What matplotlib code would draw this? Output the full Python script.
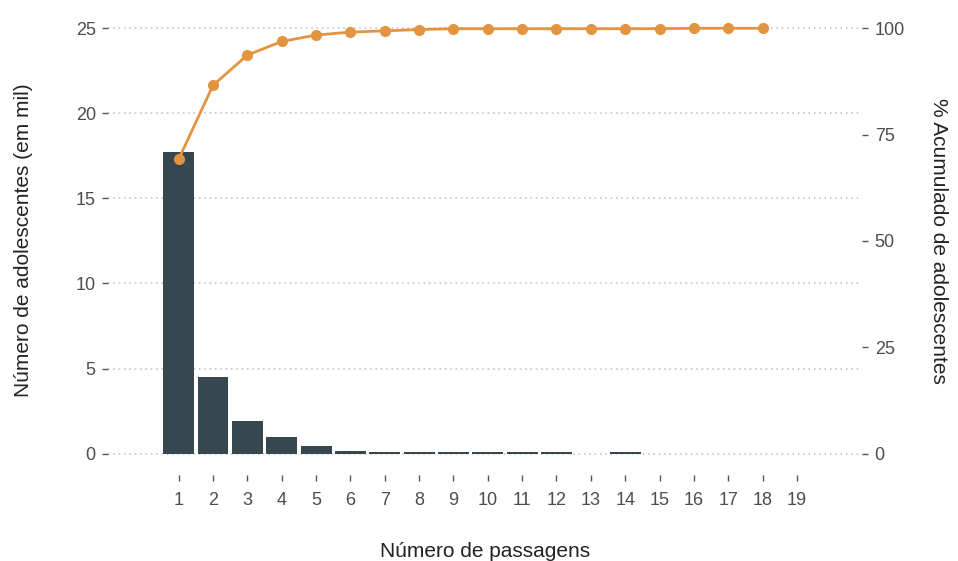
import numpy as np
import matplotlib
matplotlib.use("Agg")
import matplotlib.pyplot as plt

plt.rcParams['font.family'] = ['Liberation Sans', 'DejaVu Sans']

# dados
passagens = list(range(1, 20))
adolescentes = [17.7, 4.5, 1.9, 0.95, 0.45, 0.15, 0.12, 0.07, 0.07, 0.07,
                0.07, 0.07, 0.0, 0.07, 0.0, 0.0, 0.0, 0.0, 0.0]
passagens_acum = list(range(1, 19))
pct_acumulado = [69.2, 86.6, 93.7, 96.9, 98.4, 99.1, 99.4, 99.7, 99.9, 99.9,
                 99.9, 99.9, 99.9, 99.9, 99.9, 100, 100, 100]

cor_barra = '#36474f'
cor_linha = '#e39440'
cinza = '#4d4d4d'

fig = plt.figure(figsize=(9.58, 5.61), dpi=100)
ax = fig.add_axes([0.113, 0.153, 0.787, 0.836])
ax2 = ax.twinx()

ax.bar(passagens, adolescentes, width=0.9, color=cor_barra, zorder=2)
ax.set_ylim(-1.27, 26.3)
ax.set_xlim(-1.05, 20.9)
ax.set_yticks([0, 5, 10, 15, 20, 25])
ax.set_xticks(passagens)
ax.grid(axis='y', linestyle=(0, (1, 2.5)), color='#bdbdbd', linewidth=1.1, zorder=0)

ax2.plot(passagens_acum, pct_acumulado, color=cor_linha, linewidth=2,
         marker='o', markersize=7, zorder=3)
ax2.set_ylim(-5.08, 105.2)
ax2.set_yticks([0, 25, 50, 75, 100])

for a in (ax, ax2):
    for s in a.spines.values():
        s.set_visible(False)
    a.tick_params(colors='#555555', labelcolor=cinza, labelsize=13, length=4, width=1)
ax.tick_params(axis='x', pad=8)
ax.tick_params(axis='y', pad=5)
ax2.tick_params(axis='y', pad=5)

ax.set_ylabel('Número de adolescentes (em mil)', fontsize=15, color='#222222', labelpad=31)
ax2.set_ylabel('% Acumulado de adolescentes', fontsize=15, color='#222222',
               rotation=270, labelpad=31)
ax.set_xlabel('Número de passagens', fontsize=15, color='#222222', labelpad=24)

fig.savefig('out.png', dpi=100)
